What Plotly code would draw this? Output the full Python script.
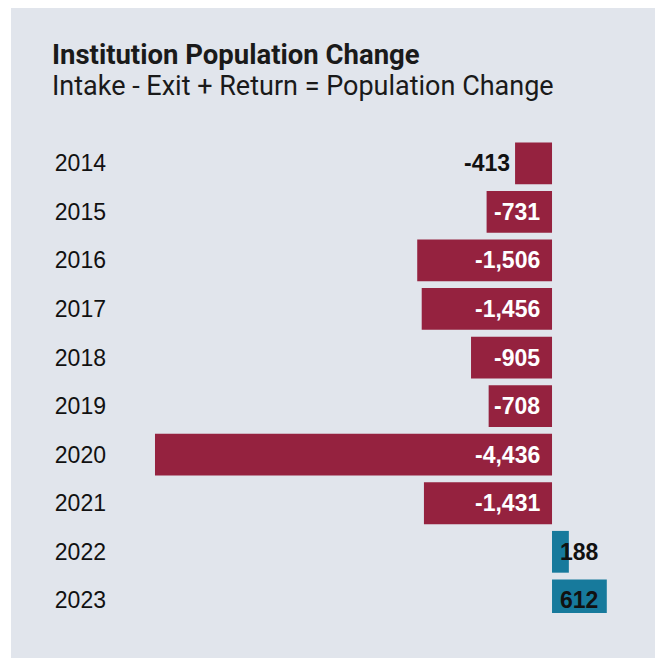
import plotly.graph_objects as go

years = ["2014", "2015", "2016", "2017", "2018", "2019", "2020", "2021", "2022", "2023"]
changes = [-413, -731, -1506, -1456, -905, -708, -4436, -1431, 188, 612]

NEG_COLOR = "#95223f"
POS_COLOR = "#177a9c"
BG = "#e1e5ec"

colors = [NEG_COLOR if v < 0 else POS_COLOR for v in changes]

fig = go.Figure()
fig.add_trace(go.Bar(
    x=changes, y=years, orientation="h",
    marker=dict(color=colors, line=dict(width=0)),
    width=0.86, hoverinfo="skip",
))

LABEL_FONT = "Liberation Sans"
annotations = []
for i, v in enumerate(changes):
    label = f"<b>{v:,}</b>"
    if v < 0 and abs(v) >= 500:
        annotations.append(dict(x=0, y=i, xref="x", yref="y", text=label, showarrow=False,
                                xanchor="right", xshift=-10,
                                font=dict(family=LABEL_FONT, size=23, color="white")))
    elif v < 0:
        annotations.append(dict(x=v, y=i, xref="x", yref="y", text=label, showarrow=False,
                                xanchor="right", xshift=-3,
                                font=dict(family=LABEL_FONT, size=23, color="#111111")))
    else:
        annotations.append(dict(x=0, y=i, xref="x", yref="y", text=label, showarrow=False,
                                xanchor="left", xshift=6,
                                font=dict(family=LABEL_FONT, size=23, color="#111111")))

annotations.append(dict(xref="paper", yref="paper", x=-0.1346, y=1.1793, xanchor="left", yanchor="middle",
                        text="<b>Institution Population Change</b>", showarrow=False,
                        font=dict(family="Roboto", size=27.5, color="#1a1a1a")))
annotations.append(dict(xref="paper", yref="paper", x=-0.1346, y=1.1118, xanchor="left", yanchor="middle",
                        text="Intake - Exit + Return = Population Change", showarrow=False,
                        font=dict(family="Roboto", size=27, color="#1a1a1a")))

fig.update_layout(
    width=655, height=652,
    margin=dict(l=112, r=23, t=131, b=47),
    paper_bgcolor="white", plot_bgcolor="rgba(0,0,0,0)",
    showlegend=False,
    annotations=annotations,
    shapes=[dict(type="rect", xref="paper", yref="paper", x0=-0.2096, x1=1.1, y0=-0.0949, y1=1.2764,
                 fillcolor=BG, line=dict(width=0), layer="below")],
    xaxis=dict(range=[-4827, 983], visible=False, fixedrange=True),
    yaxis=dict(type="category", range=[9.26, -0.5], showgrid=False, zeroline=False, showline=False,
               ticks="", ticklabelstandoff=13,
               tickfont=dict(family="Liberation Sans", size=23, color="#111111")),
)

fig.write_html("out.html")
